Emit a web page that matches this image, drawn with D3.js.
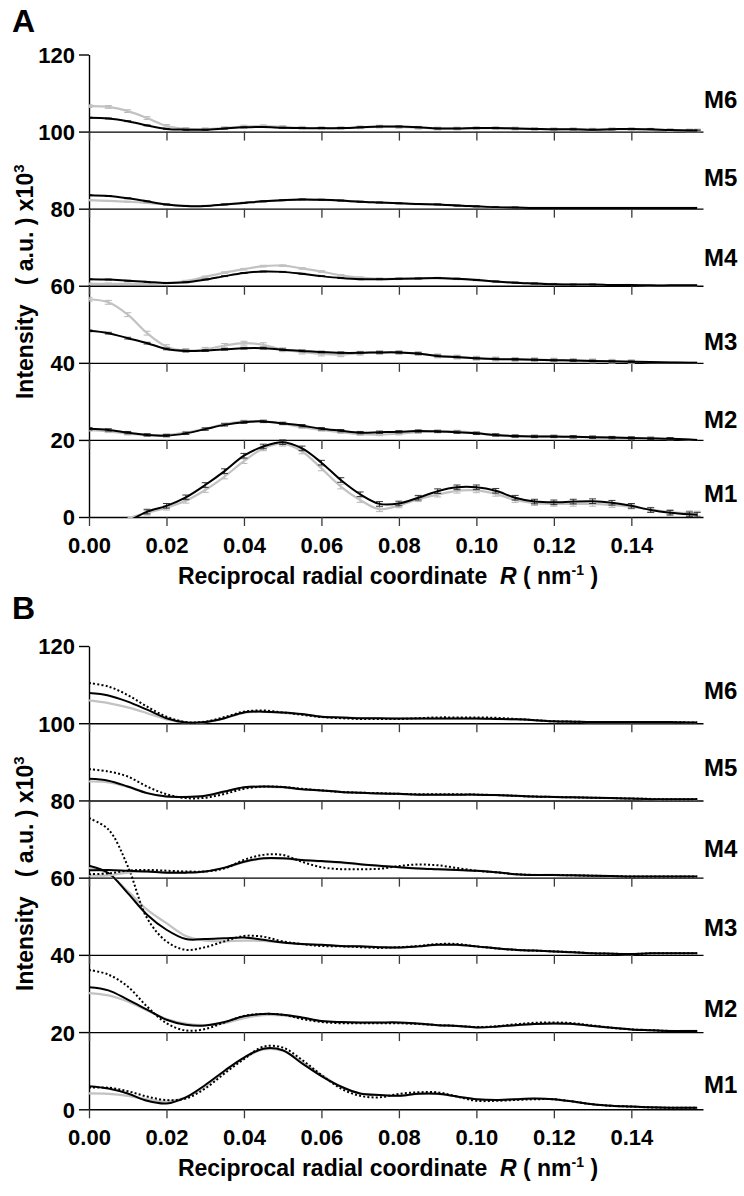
<!DOCTYPE html>
<html>
<head>
<meta charset="utf-8">
<script src="https://cdn.jsdelivr.net/npm/d3@7"></script>
<style>
  html, body { margin: 0; padding: 0; background: #fff; }
  svg { display: block; }
  text { font-family: "Liberation Sans", Arial, Helvetica, sans-serif; font-weight: bold; fill: #000; }
</style>
</head>
<body>
<svg id="chart" width="744" height="1196"></svg>
<script>
// ---------------- DATA ----------------
// reciprocal radial coordinate R (nm^-1) sampling grid
const R = [0, 0.005, 0.01, 0.015, 0.02, 0.025, 0.03, 0.035, 0.04, 0.045, 0.05, 0.055, 0.06, 0.065, 0.07, 0.075,
           0.08, 0.085, 0.09, 0.095, 0.1, 0.105, 0.11, 0.115, 0.12, 0.125, 0.13, 0.135, 0.14, 0.145, 0.15, 0.155, 0.157];
const models = ["M1", "M2", "M3", "M4", "M5", "M6"];
const offsets = [0, 20, 40, 60, 80, 100];          // vertical offset of each model trace (x10^3)
const xTickValues = [0, 0.02, 0.04, 0.06, 0.08, 0.10, 0.12, 0.14];
const yTickValues = [0, 20, 40, 60, 80, 100, 120];

// Panel A (intensity above each offset, x10^3) : black and grey traces, with error bars
const aBlackM1 = [null, null, -1.3, 1.4, 2.9, 5.1, 8.3, 11.9, 15.9, 18.3, 19.4, 17.8, 14.1, 9.6, 5.9, 3.4, 3.5, 5.0, 6.7, 7.7, 7.7, 6.8, 5.0, 4.0, 3.8, 4.0, 4.1, 3.7, 2.9, 1.8, 1.1, 0.7, 0.6];
const aGreyM1  = [null, null, -0.3, 1.1, 2.4, 4.2, 7.0, 10.5, 14.5, 17.8, 19.0, 17.0, 12.6, 7.9, 4.4, 2.0, 3.0, 4.6, 5.8, 6.8, 6.9, 6.0, 4.4, 3.6, 3.4, 3.4, 3.4, 3.1, 2.7, 1.9, 1.3, 1.0, 0.9];
const aBlackM2 = [2.9, 2.6, 1.9, 1.3, 1.1, 1.7, 2.8, 3.9, 4.6, 4.8, 4.3, 3.7, 2.9, 2.4, 1.9, 2.0, 2.1, 2.3, 2.2, 2.0, 1.7, 1.3, 1.0, 0.9, 0.9, 0.8, 0.7, 0.6, 0.5, 0.4, 0.3, 0.1, 0.0];
const aGreyM2  = [2.6, 2.2, 1.6, 1.3, 1.3, 1.9, 2.9, 4.1, 4.8, 4.8, 4.2, 3.3, 2.6, 2.0, 1.5, 1.4, 1.6, 2.0, 2.2, 2.2, 1.8, 1.2, 0.9, 0.9, 0.9, 0.8, 0.7, 0.6, 0.5, 0.4, 0.3, 0.1, 0.0];
const aBlackM3 = [8.3, 7.7, 6.4, 5.1, 3.6, 3.1, 3.2, 3.5, 3.8, 3.8, 3.4, 3.1, 2.8, 2.6, 2.6, 2.7, 2.7, 2.4, 1.8, 1.5, 1.2, 1.0, 0.9, 0.8, 0.7, 0.6, 0.5, 0.4, 0.3, 0.2, 0.1, 0.05, 0.0];
const aGreyM3  = [16.5, 15.7, 12.5, 7.7, 4.2, 3.2, 3.5, 4.5, 5.1, 4.7, 3.4, 2.8, 2.3, 2.1, 2.5, 2.7, 2.7, 2.4, 1.8, 1.5, 1.2, 1.0, 0.9, 0.8, 0.7, 0.6, 0.5, 0.4, 0.3, 0.2, 0.1, 0.05, 0.0];
const aBlackM4 = [1.7, 1.6, 1.3, 1.0, 0.7, 0.9, 1.6, 2.5, 3.3, 3.7, 3.6, 3.1, 2.5, 2.0, 1.7, 1.7, 1.8, 1.9, 2.0, 1.8, 1.5, 1.1, 0.8, 0.6, 0.4, 0.3, 0.3, 0.2, 0.2, 0.1, 0.1, 0.1, 0.1];
const aGreyM4  = [0.5, 0.5, 0.5, 0.5, 0.7, 1.2, 2.3, 3.4, 4.3, 5.1, 5.2, 4.5, 3.7, 2.7, 2.1, 1.8, 1.8, 1.9, 2.0, 1.8, 1.5, 1.1, 0.8, 0.6, 0.4, 0.3, 0.3, 0.2, 0.2, 0.1, 0.1, 0.1, 0.1];
const aBlackM5 = [3.5, 3.3, 2.7, 1.9, 1.1, 0.7, 0.7, 1.1, 1.5, 1.9, 2.2, 2.4, 2.3, 2.1, 1.8, 1.6, 1.4, 1.2, 1.1, 0.8, 0.6, 0.4, 0.3, 0.2, 0.2, 0.2, 0.2, 0.2, 0.2, 0.2, 0.2, 0.2, 0.2];
const aGreyM5  = [2.2, 2.0, 1.8, 1.5, 1.1, 0.7, 0.7, 1.1, 1.5, 1.9, 2.2, 2.4, 2.3, 2.1, 1.8, 1.6, 1.4, 1.2, 1.1, 0.8, 0.6, 0.4, 0.3, 0.2, 0.2, 0.2, 0.2, 0.2, 0.2, 0.2, 0.2, 0.2, 0.2];
const aBlackM6 = [3.6, 3.4, 2.7, 1.6, 0.7, 0.5, 0.5, 0.8, 1.1, 1.2, 1.0, 0.9, 0.9, 0.9, 1.1, 1.3, 1.3, 1.1, 0.8, 0.8, 0.9, 0.9, 0.8, 0.7, 0.6, 0.6, 0.5, 0.6, 0.7, 0.6, 0.4, 0.3, 0.3];
const aGreyM6  = [6.6, 6.4, 5.3, 3.5, 1.5, 0.7, 0.6, 0.9, 1.3, 1.4, 1.2, 1.0, 0.9, 0.9, 1.1, 1.3, 1.2, 1.0, 0.8, 0.8, 0.9, 0.9, 0.8, 0.7, 0.6, 0.6, 0.5, 0.6, 0.6, 0.5, 0.4, 0.3, 0.3];
// error bar half-widths (x10^3), per model
const aBlackErr = [0.6, 0.3, 0.22, 0.12, 0.12, 0.12];
const aGreyErr  = [0.6, 0.3, 0.5, 0.2, 0.12, 0.35];

// Panel B : grey, black solid and black dotted traces
const bGreyM1   = [4.1, 4.0, 3.5, 2.6, 2.0, 3.1, 5.9, 9.8, 13.2, 15.5, 15.2, 12.3, 8.9, 5.9, 4.1, 3.7, 3.5, 4.0, 4.0, 3.3, 2.6, 2.4, 2.6, 2.8, 2.6, 2.0, 1.3, 0.9, 0.7, 0.5, 0.4, 0.4, 0.4];
const bBlackM1  = [6.0, 5.4, 4.1, 2.2, 1.5, 3.1, 6.3, 10.0, 13.4, 15.7, 15.3, 11.9, 8.6, 5.9, 4.1, 3.7, 3.5, 4.0, 4.0, 3.3, 2.6, 2.4, 2.6, 2.8, 2.6, 2.0, 1.3, 0.9, 0.7, 0.5, 0.4, 0.4, 0.4];
const bDotM1    = [5.6, 5.6, 4.7, 3.3, 2.4, 2.8, 5.4, 9.3, 13.0, 16.2, 16.0, 12.8, 8.9, 5.4, 3.5, 3.1, 4.0, 4.4, 4.4, 3.3, 2.2, 2.2, 2.4, 2.6, 2.6, 2.0, 1.3, 0.9, 0.7, 0.5, 0.4, 0.4, 0.4];
const bGreyM2   = [10.1, 9.5, 7.9, 5.6, 3.4, 2.2, 1.8, 2.3, 3.6, 4.4, 4.3, 3.6, 2.8, 2.5, 2.4, 2.4, 2.4, 2.1, 1.8, 1.6, 1.2, 1.4, 1.8, 2.1, 2.2, 2.1, 1.6, 1.1, 0.7, 0.5, 0.3, 0.3, 0.3];
const bBlackM2  = [11.6, 10.8, 8.4, 5.8, 3.2, 1.9, 1.7, 2.6, 4.1, 4.7, 4.5, 3.8, 2.9, 2.6, 2.5, 2.5, 2.5, 2.2, 1.8, 1.6, 1.2, 1.4, 1.8, 2.1, 2.2, 2.1, 1.6, 1.1, 0.7, 0.5, 0.3, 0.3, 0.3];
const bDotM2    = [16.1, 14.9, 11.8, 6.6, 2.3, 0.4, 0.8, 2.5, 4.2, 4.7, 4.5, 3.4, 2.6, 2.3, 2.3, 2.3, 2.3, 2.1, 1.8, 1.6, 1.3, 1.5, 2.0, 2.4, 2.5, 2.3, 1.7, 1.1, 0.7, 0.5, 0.3, 0.3, 0.3];
const bGreyM3   = [22.5, 21.0, 16.5, 11.7, 8.2, 4.9, 3.7, 3.5, 3.7, 3.6, 3.2, 2.8, 2.6, 2.3, 2.2, 2.0, 1.9, 2.2, 2.6, 2.6, 2.2, 1.7, 1.3, 1.1, 0.9, 0.7, 0.4, 0.3, 0.2, 0.4, 0.4, 0.4, 0.4];
const bBlackM3  = [23.1, 21.2, 16.0, 10.4, 6.5, 4.1, 4.1, 4.3, 4.5, 3.9, 3.2, 2.8, 2.6, 2.3, 2.2, 2.0, 1.9, 2.2, 2.6, 2.6, 2.2, 1.7, 1.3, 1.1, 0.9, 0.7, 0.4, 0.3, 0.2, 0.4, 0.4, 0.4, 0.4];
const bDotM3    = [35.4, 32.5, 23.0, 9.5, 3.5, 1.3, 2.0, 3.5, 4.9, 4.7, 3.5, 2.8, 2.3, 2.2, 2.0, 1.8, 2.0, 2.3, 2.8, 2.8, 2.2, 1.7, 1.3, 1.1, 0.9, 0.7, 0.4, 0.3, 0.2, 0.4, 0.4, 0.4, 0.4];
const bGreyM4   = [0.6, 0.6, 1.3, 1.6, 1.4, 1.3, 1.6, 2.5, 4.0, 4.9, 4.9, 4.5, 4.2, 3.9, 3.4, 3.0, 2.7, 2.4, 2.2, 2.0, 1.8, 1.4, 0.9, 0.7, 0.7, 0.6, 0.5, 0.4, 0.3, 0.3, 0.3, 0.3, 0.3];
const bBlackM4  = [1.9, 2.0, 1.8, 1.6, 1.3, 1.3, 1.6, 2.6, 4.1, 5.0, 5.0, 4.6, 4.3, 4.0, 3.5, 3.1, 2.7, 2.4, 2.2, 2.0, 1.8, 1.4, 0.9, 0.7, 0.7, 0.6, 0.5, 0.4, 0.3, 0.3, 0.3, 0.3, 0.3];
const bDotM4    = [0.9, 1.1, 1.8, 2.0, 1.8, 1.6, 1.6, 2.4, 4.6, 5.9, 5.9, 4.1, 2.7, 2.2, 2.2, 2.3, 3.0, 3.4, 3.2, 2.5, 1.8, 1.4, 0.9, 0.7, 0.7, 0.6, 0.5, 0.4, 0.3, 0.3, 0.3, 0.3, 0.3];
const bGreyM5   = [4.9, 4.7, 3.5, 1.9, 1.0, 0.9, 1.2, 2.3, 3.3, 3.5, 3.4, 2.9, 2.6, 2.2, 2.0, 1.8, 1.7, 1.5, 1.5, 1.5, 1.5, 1.4, 1.2, 1.0, 0.9, 0.8, 0.7, 0.6, 0.5, 0.3, 0.3, 0.3, 0.3];
const bBlackM5  = [5.6, 5.1, 3.6, 1.9, 1.0, 0.9, 1.2, 2.3, 3.4, 3.6, 3.5, 2.9, 2.6, 2.2, 2.0, 1.8, 1.7, 1.5, 1.5, 1.5, 1.5, 1.4, 1.2, 1.0, 0.9, 0.8, 0.7, 0.6, 0.5, 0.3, 0.3, 0.3, 0.3];
const bDotM5    = [8.1, 7.5, 6.2, 3.6, 1.6, 0.6, 0.7, 1.7, 3.0, 3.6, 3.5, 3.0, 2.6, 2.2, 2.0, 1.9, 1.7, 1.6, 1.6, 1.6, 1.5, 1.4, 1.2, 1.0, 0.9, 0.8, 0.7, 0.6, 0.5, 0.4, 0.3, 0.3, 0.4];
const bGreyM6   = [5.9, 5.2, 4.1, 2.6, 1.0, 0.2, 0.3, 1.3, 2.7, 2.9, 2.7, 2.3, 1.7, 1.5, 1.3, 1.3, 1.2, 1.2, 1.2, 1.2, 1.2, 1.1, 1.0, 0.8, 0.5, 0.4, 0.3, 0.3, 0.3, 0.3, 0.3, 0.2, 0.2];
const bBlackM6  = [7.8, 7.2, 5.6, 3.5, 1.3, 0.2, 0.3, 1.3, 2.8, 3.0, 2.8, 2.4, 1.7, 1.5, 1.3, 1.3, 1.2, 1.2, 1.2, 1.2, 1.2, 1.1, 1.0, 0.8, 0.5, 0.4, 0.3, 0.3, 0.3, 0.3, 0.3, 0.2, 0.2];
const bDotM6    = [10.4, 9.5, 7.3, 4.3, 1.7, 0.3, 0.4, 1.6, 3.0, 3.3, 2.8, 2.2, 1.6, 1.3, 1.1, 1.1, 1.1, 1.3, 1.5, 1.5, 1.5, 1.4, 1.1, 0.8, 0.5, 0.4, 0.3, 0.3, 0.3, 0.3, 0.3, 0.2, 0.2];

// ---------------- LAYOUT ----------------
const W = 744, H = 1196;
const X0 = 89, X1 = 703;
const GREY = "#c2c2c2";
const svg = d3.select("#chart");
svg.append("rect").attr("width", W).attr("height", H).attr("fill", "#fff");

const x = d3.scaleLinear().domain([0, 0.1585]).range([X0, X1]);

const panels = [
  { letter: "A", letterY: 32, top: 54.5, bottom: 517,
    labelLift: [4.0, 3.0, 3.4, 5.2, 6.0, 6.1],
    series: [
      [aGreyM1, aBlackM1], [aGreyM2, aBlackM2], [aGreyM3, aBlackM3],
      [aGreyM4, aBlackM4], [aGreyM5, aBlackM5], [aGreyM6, aBlackM6]
    ], errors: true },
  { letter: "B", letterY: 619, top: 646, bottom: 1109.3,
    labelLift: [4.1, 4.0, 4.9, 5.3, 6.2, 6.2],
    series: [
      [bGreyM1, bBlackM1, bDotM1], [bGreyM2, bBlackM2, bDotM2], [bGreyM3, bBlackM3, bDotM3],
      [bGreyM4, bBlackM4, bDotM4], [bGreyM5, bBlackM5, bDotM5], [bGreyM6, bBlackM6, bDotM6]
    ], errors: false }
];

panels.forEach((p, pi) => {
  const y = d3.scaleLinear().domain([0, 120]).range([p.bottom, p.top]);
  const g = svg.append("g");

  // clip to plotting area
  const clipId = "clip" + pi;
  svg.append("clipPath").attr("id", clipId).append("rect")
    .attr("x", X0).attr("y", p.top - 2).attr("width", X1 - X0 + 2).attr("height", p.bottom - p.top + 3);

  // panel letter
  g.append("text").attr("x", 12).attr("y", p.letterY).style("font-size", "32px").text(p.letter);

  // y axis
  const yAxis = d3.axisLeft(y).tickValues(yTickValues).tickSize(10).tickSizeOuter(0).tickPadding(4)
    .tickFormat(d3.format("d"));
  const ya = g.append("g").attr("transform", `translate(${X0},0)`).call(yAxis);
  ya.select(".domain").attr("stroke", "#000").attr("stroke-width", 1.4);
  ya.selectAll(".tick line").attr("stroke", "#000").attr("stroke-width", 1.4);
  ya.selectAll(".tick text").style("font-size", "22px").style("font-family", "Liberation Sans, Arial, sans-serif")
    .style("font-weight", "bold").attr("fill", "#000").attr("dy", "0.36em");

  // baselines with downward ticks
  offsets.forEach((off, i) => {
    const ax = d3.axisBottom(x).tickValues(xTickValues).tickSize(9).tickSizeOuter(0)
      .tickFormat(i === 0 ? d3.format(".2f") : "");
    const a = g.append("g").attr("transform", `translate(0,${y(off)})`).call(ax);
    a.select(".domain").attr("stroke", "#000").attr("stroke-width", 1.4);
    a.selectAll(".tick line").attr("stroke", "#3a3a3a").attr("stroke-width", 1.3);
    a.selectAll(".tick text").style("font-size", "22px").style("font-family", "Liberation Sans, Arial, sans-serif")
      .style("font-weight", "bold").attr("fill", "#000").attr("y", 0).attr("dy", 36);
  });

  // curves
  const plot = g.append("g").attr("clip-path", `url(#${clipId})`);
  const styles = [
    { stroke: GREY, width: 2.2, dash: null },
    { stroke: "#000", width: 2.0, dash: null },
    { stroke: "#000", width: 2.0, dash: "2,2.2" }
  ];
  const errs = [aGreyErr, aBlackErr];

  p.series.forEach((set, mi) => {
    const off = offsets[mi];
    set.forEach((vals, si) => {
      const pts = R.map((r, k) => ({ r, v: vals[k] }));
      const st = styles[si];
      if (p.errors) {
        const e = errs[si][mi];
        const eb = plot.append("g").attr("stroke", si === 0 ? "#b0b0b0" : "#222").attr("stroke-width", 0.9);
        pts.filter(d => d.v !== null && d.v >= 0.3).forEach(d => {
          const cx = x(d.r), y1 = y(off + d.v - e), y2 = y(off + d.v + e);
          eb.append("line").attr("x1", cx).attr("x2", cx).attr("y1", y1).attr("y2", y2);
          eb.append("line").attr("x1", cx - 3.5).attr("x2", cx + 3.5).attr("y1", y1).attr("y2", y1);
          eb.append("line").attr("x1", cx - 3.5).attr("x2", cx + 3.5).attr("y1", y2).attr("y2", y2);
        });
      }
      const line = d3.line()
        .defined(d => d.v !== null)
        .x(d => x(d.r)).y(d => y(off + d.v))
        .curve(d3.curveCatmullRom.alpha(0.5));
      plot.append("path").datum(pts)
        .attr("fill", "none").attr("stroke", st.stroke).attr("stroke-width", st.width)
        .attr("stroke-linejoin", "round")
        .attr("stroke-dasharray", st.dash)
        .attr("d", line);
    });
    // model label
    g.append("text").attr("x", 704).attr("y", y(off + p.labelLift[mi]))
      .style("font-size", "24px").text(models[mi]);
  });

  // y axis title
  const midY = (p.top + p.bottom) / 2 - 4;
  const yt = g.append("text").attr("transform", `translate(33,${midY}) rotate(-90)`)
    .attr("text-anchor", "middle").style("font-size", "23px").attr("xml:space", "preserve");
  yt.append("tspan").text("Intensity   ( a.u. ) x10");
  yt.append("tspan").attr("dy", -9).style("font-size", "15px").text("3");

  // x axis title
  const xt = g.append("text").attr("x", 388).attr("y", p.bottom + 67)
    .attr("text-anchor", "middle").style("font-size", "23px").attr("xml:space", "preserve");
  xt.append("tspan").text("Reciprocal radial coordinate  ");
  xt.append("tspan").style("font-style", "italic").text("R");
  xt.append("tspan").text(" ( nm");
  xt.append("tspan").attr("dy", -9).style("font-size", "14px").text("-1");
  xt.append("tspan").attr("dy", 9).text(" )");
});
</script>
</body>
</html>
